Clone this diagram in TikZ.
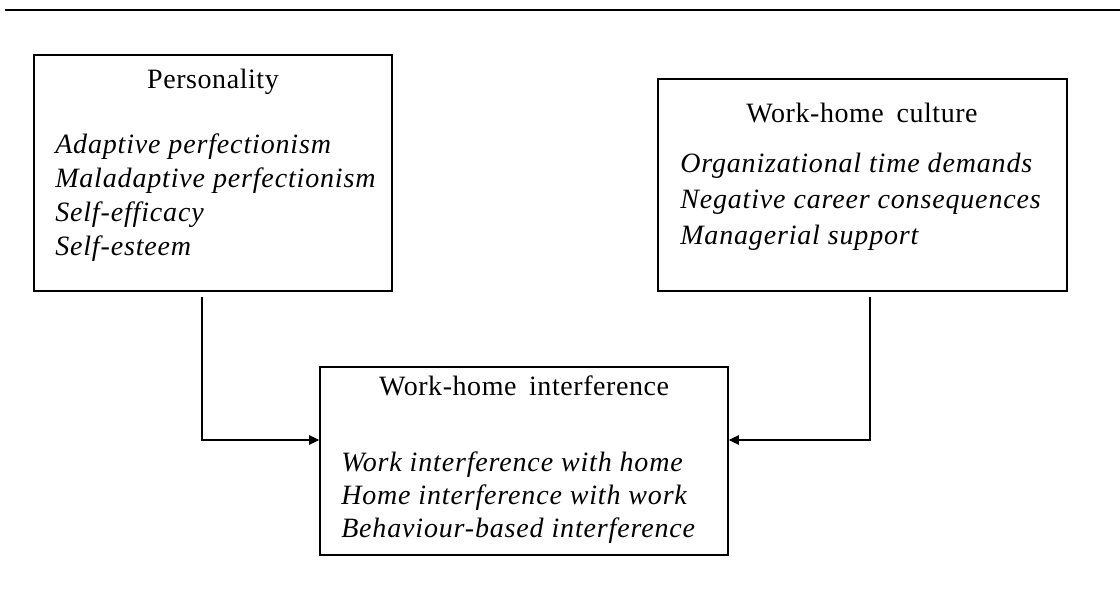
\documentclass[tikz,border=0pt]{standalone}
\usepackage{fontspec}
\setmainfont{Liberation Serif}[LetterSpace=2,ItalicFeatures={LetterSpace=3}]
\usetikzlibrary{arrows.meta,fit}
\begin{document}
\begin{tikzpicture}[x=0.75pt,y=-0.75pt,
  box/.style={draw, line width=1.15pt, inner sep=0pt},
  heading/.style={anchor=base, inner sep=0pt, font=\fontsize{21}{25}\selectfont},
  item/.style={anchor=base west, inner sep=0pt, font=\fontsize{21}{25}\selectfont\itshape},
  conn/.style={line width=1pt, -{Triangle[length=7.5pt,width=7pt]}},
  toprule/.style={line width=1.7pt}]
\useasboundingbox (0,0) rectangle (1120,598);

% rule across the top
\coordinate (rl) at (5,10);
\coordinate (rr) at (1120,10);
\draw[toprule] (rl) -- (rr);

% Personality
\node[box, fit={(34,55) (392,291)}] (pers) {};
\node[heading] (perst) at (213,89) {Personality};
\foreach \t [count=\i from 0] in {Adaptive perfectionism, Maladaptive perfectionism, Self-efficacy, Self-esteem}
  \node[item] (pers\i) at (55,{154+34*\i}) {\t};

% Work-home culture
\node[box, fit={(658,79) (1067,291)}] (whc) {};
\node[heading] (whct) at (862,123) {Work-home\hspace{0.45em}culture};
\foreach \t [count=\i from 0] in {Organizational time demands, Negative career consequences, Managerial support}
  \node[item] (whc\i) at (680,{173+36*\i}) {\t};

% Work-home interference
\node[box, fit={(320,367) (728,555)}] (whi) {};
\node[heading] (whit) at (524,395) {Work-home\hspace{0.45em}interference};
\foreach \t [count=\i from 0] in {Work interference with home, Home interference with work, Behaviour-based interference}
  \node[item] (whi\i) at (341,{471+33*\i}) {\t};

% connectors
\coordinate (ls) at (202,297);
\coordinate (rs) at (870,297);
\coordinate (ay) at (0,440);
\draw[conn] (ls) |- (whi.west |- ay);
\draw[conn] (rs) |- (whi.east |- ay);
\end{tikzpicture}
\end{document}
